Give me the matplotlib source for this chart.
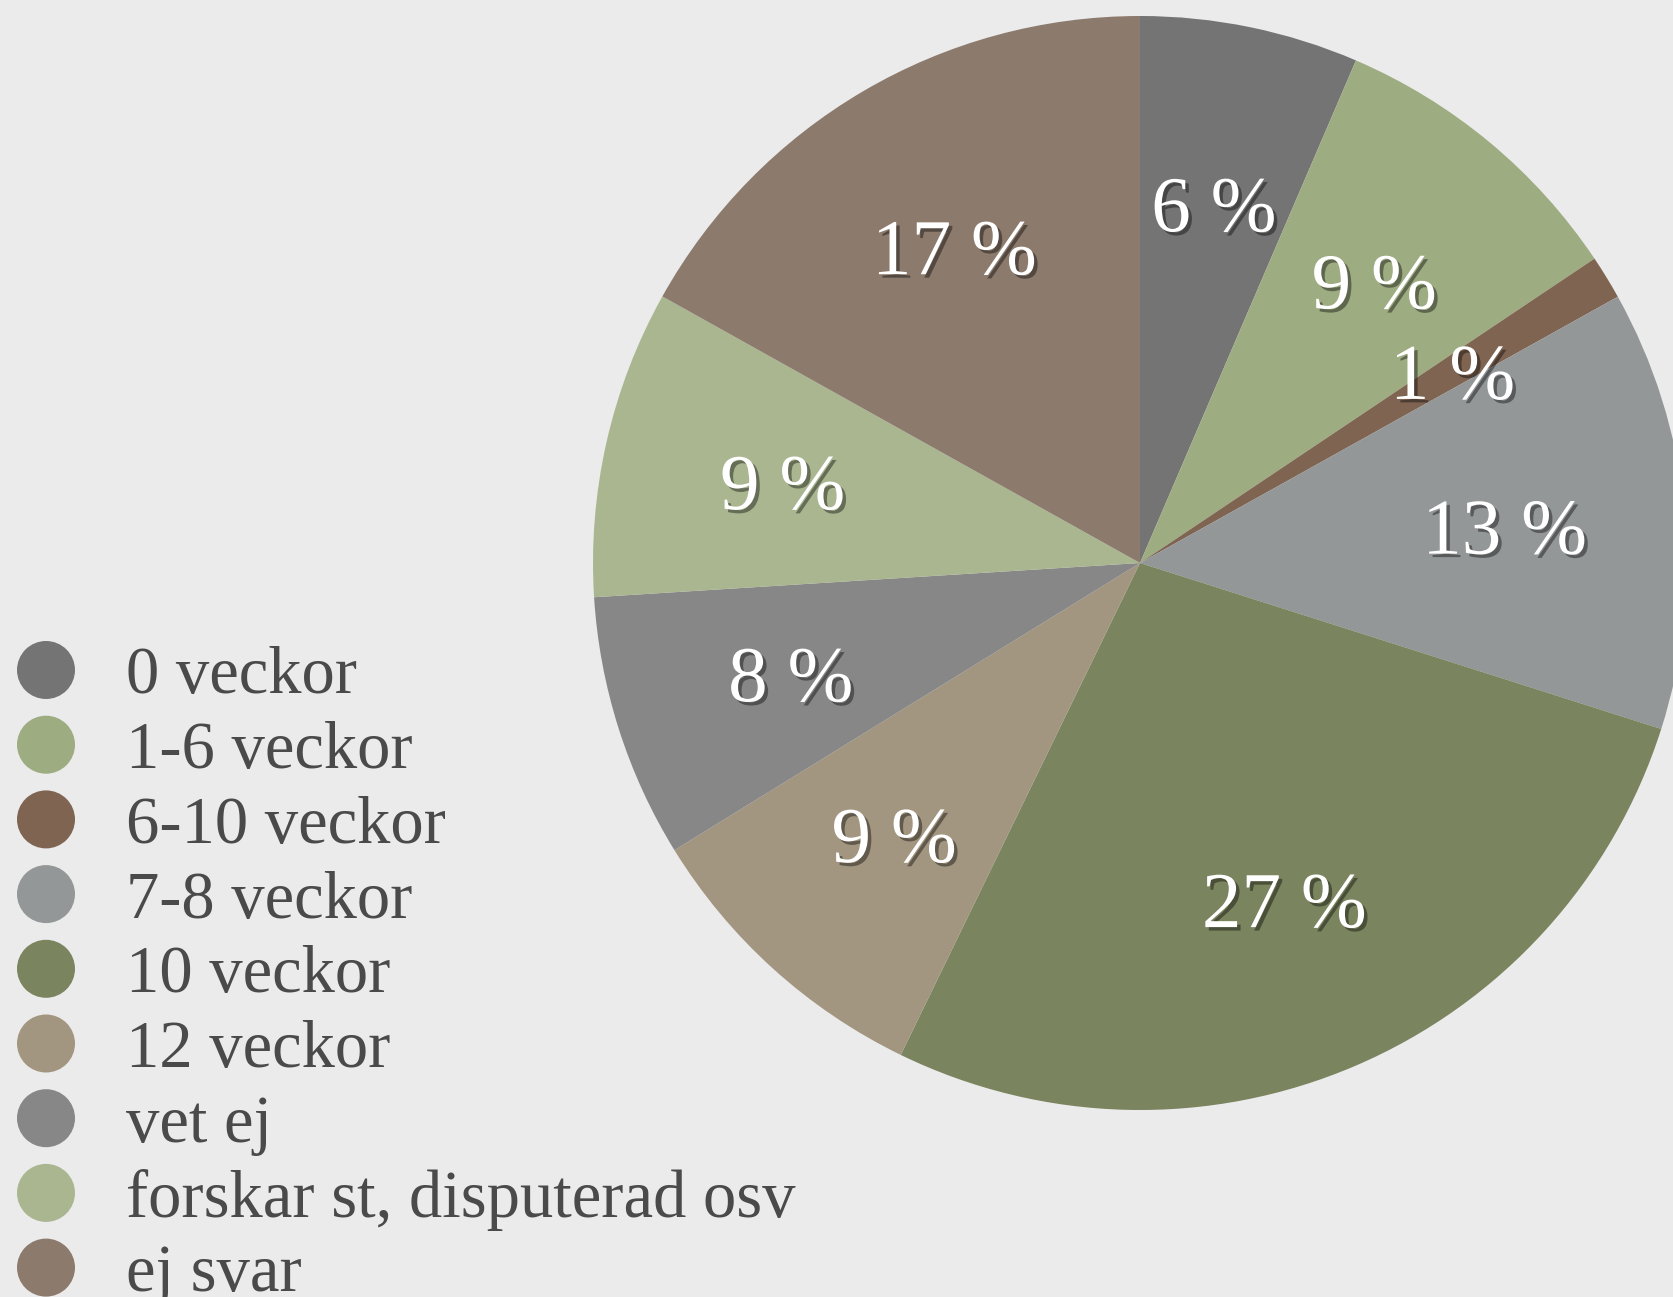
import matplotlib.pyplot as plt
import matplotlib.patheffects as pe

# ---- data (clockwise from 12 o'clock) ----
LABELS = ['0 veckor', '1-6 veckor', '6-10 veckor', '7-8 veckor', '10 veckor',
          '12 veckor', 'vet ej', 'forskar st, disputerad osv', 'ej svar']
SHARES = [6.46, 9.15, 1.3, 13.0, 27.3, 9.0, 7.8, 9.1, 16.9]
COLORS = ['#747474', '#9eac82', '#7f6452', '#939798', '#7a845e',
          '#a39680', '#878787', '#a9b690', '#8c7a6d']

W, H = 1673, 1297
BG = '#ebebeb'
FONT = ['Liberation Serif', 'DejaVu Serif']

fig = plt.figure(figsize=(W / 100, H / 100), dpi=100, facecolor=BG)

# pie axes: centre (1140, 563) px, radius 547 px
cx, cy, r = 1140, 563, 547
ax = fig.add_axes([(cx - r) / W, (H - cy - r) / H, 2 * r / W, 2 * r / H])
ax.set_facecolor('none')

shadow = [pe.withSimplePatchShadow(offset=(2.5, -2.5), shadow_rgbFace='black', alpha=0.4)]
wedges, texts, autotexts = ax.pie(
    SHARES, colors=COLORS, startangle=90, counterclock=False,
    autopct=lambda p: f'{p:.0f} %', pctdistance=0.67, radius=1,
    wedgeprops=dict(linewidth=0),
    textprops=dict(color='white', fontsize=57, family=FONT))
for t in autotexts:
    t.set_path_effects(shadow)
    t.set_va('center_baseline')
ax.set_xlim(-1, 1)
ax.set_ylim(-1, 1)
ax.set_aspect('equal')
ax.axis('off')

# legend drawn in pixel space at lower left (last row runs off the bottom, as in the original)
lg = fig.add_axes([0, 0, 1, 1])
lg.set_xlim(0, W)
lg.set_ylim(H, 0)
lg.axis('off')
y0, step = 670, 74.7
for i, (lab, col) in enumerate(zip(LABELS, COLORS)):
    y = y0 + i * step
    lg.scatter([46], [y], s=(58 * 0.72) ** 2, color=col, edgecolors='none')
    lg.text(126, y, lab, fontsize=48, family=FONT, color='#4a4a4a',
            va='center_baseline', ha='left')

fig.savefig('out.png', dpi=100, facecolor=BG)
